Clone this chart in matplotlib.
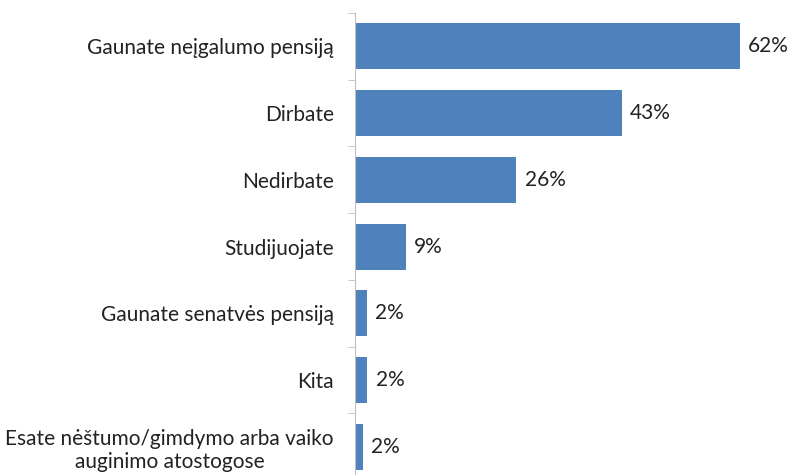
import matplotlib.pyplot as plt
import numpy as np

# Duomenys
kategorijos = ["Gaunate neįgalumo pensiją", "Dirbate", "Nedirbate", "Studijuojate",
               "Gaunate senatvės pensiją", "Kita",
               "Esate nėštumo/gimdymo arba vaiko\nauginimo atostogose"]
reiksmes = [62.0, 43.0, 26.0, 8.2, 1.9, 2.0, 1.3]
etiketes = ["62%", "43%", "26%", "9%", "2%", "2%", "2%"]

plt.rcParams['font.family'] = ['Lato', 'DejaVu Sans']

fig = plt.figure(figsize=(7.92, 4.75), dpi=100)
ax = fig.add_axes([0.448, -0.0105, 0.549, 0.983])

y = np.arange(len(kategorijos))
ax.barh(y, reiksmes, height=0.69, color="#4F81BD")
for yi, v, t in zip(y, reiksmes, etiketes):
    ax.annotate(t, (v, yi), xytext=(6, 0), textcoords="offset points",
                va="center", ha="left", fontsize=15, color="#222222")

ax.set_xlim(0, 70)
ax.set_ylim(len(kategorijos) - 0.5, -0.5)
ax.set_yticks(y)
ax.set_yticklabels(kategorijos, fontsize=15, multialignment="center", color="#222222")
ax.set_yticks(np.arange(len(kategorijos) + 1) - 0.5, minor=True)
ax.tick_params(axis="y", which="major", length=0, pad=15)
ax.tick_params(axis="y", which="minor", length=5, color="#BFBFBF")
ax.set_xticks([])
for s in ["top", "right", "bottom"]:
    ax.spines[s].set_visible(False)
ax.spines["left"].set_color("#BFBFBF")

plt.savefig("out.png", dpi=100)
